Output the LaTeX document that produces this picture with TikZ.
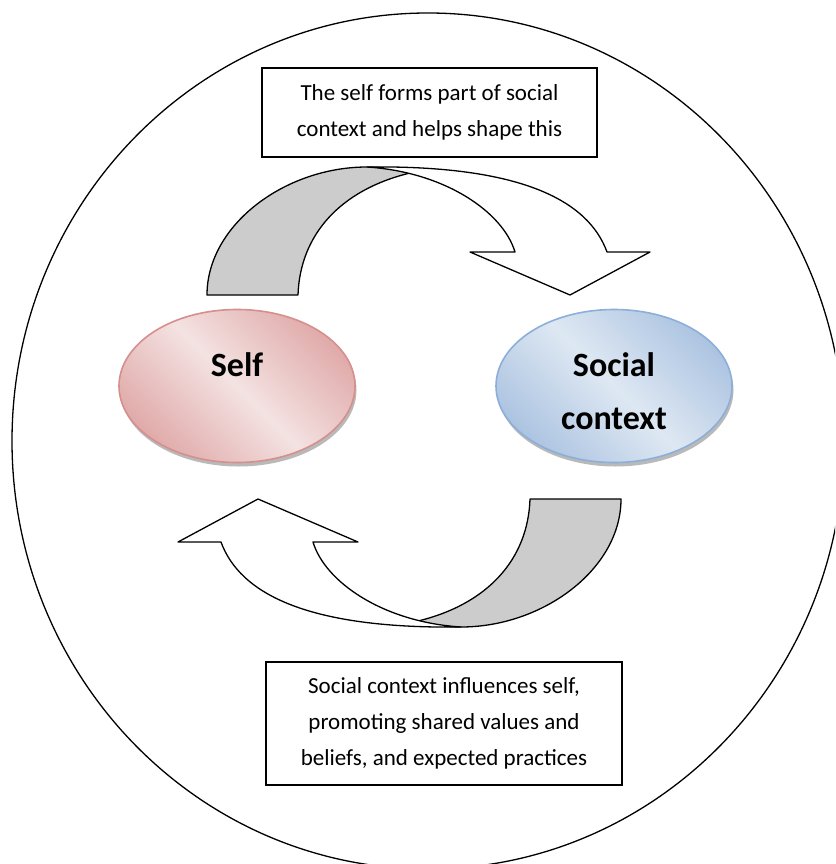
\documentclass[tikz,border=0pt]{standalone}
\usepackage{fontspec}
\setmainfont{Carlito}
\usepackage{tikz}
\usetikzlibrary{shapes.geometric}
\usetikzlibrary{shadows}
\definecolor{selfdark}{HTML}{E0ABAA}
\definecolor{selflight}{HTML}{F4E2E2}
\definecolor{selfborder}{HTML}{D58F8D}
\definecolor{socdark}{HTML}{ADC4E1}
\definecolor{soclight}{HTML}{DEE8F3}
\definecolor{socborder}{HTML}{8CAFD9}
\definecolor{backface}{HTML}{CCCCCC}

\tikzset{
  ellnode/.style={ellipse, minimum width=236pt, minimum height=153pt, inner sep=0pt, line width=1.6pt,
    drop shadow={shadow xshift=1.5pt, shadow yshift=-4pt, fill=black!50, opacity=.55}},
  selfell/.style={ellnode, draw=selfborder, top color=selfdark, bottom color=selfdark, middle color=selflight, shading angle=-45},
  socell/.style={ellnode, draw=socborder, top color=socdark, bottom color=socdark, middle color=soclight, shading angle=-45},
  elltext/.style={align=center, font=\fontsize{34}{53}\selectfont\bfseries},
  txtbox/.style={draw, line width=1.3pt, align=center, inner sep=0pt, fill=white, font=\fontsize{23}{36}\selectfont},
  ribbon/.style={draw, line width=1.3pt, line join=round}
}

\begin{document}
\begin{tikzpicture}[x=1pt,y=-1pt]
\clip (0,0) rectangle (835,864);
% Outer frame
\draw[line width=1.3pt] (428,441) ellipse (416 and 428);
% Bent arrows (the lower one is the upper one turned round)
\foreach \rot in {0,180}{
 \begin{scope}[rotate around={\rot:(414,397)}]
  \draw[ribbon, fill=backface] (207,295) -- (298,295) .. controls (300,235) and (340,190) .. (410,173)
     .. controls (397,169) and (382,167) .. (367,167) .. controls (285,167) and (207,225) .. (207,295) -- cycle;
  \draw[ribbon, fill=white] (367,167) .. controls (520,165) and (588,200) .. (607,252) -- (650,252) -- (570,295)
     -- (470,252) -- (515,252) .. controls (503,212) and (445,172) .. (367,167) -- cycle;
 \end{scope}
}
% Self and social context
\node[selfell] (self) at (237,386) {};
\node[socell] (soc) at (614,386) {};
\node[elltext] (selftxt) at ([yshift=21pt]self.center) {Self};
\node[elltext] (soctxt) at ([yshift=-5pt]soc.center) {Social\\context};
% Captions
\node[txtbox, minimum width=335pt, minimum height=89pt] (topbox) at (429.5,112.5) {The self forms part of social\\context and helps shape this};
\node[txtbox, minimum width=356pt, minimum height=123pt] (botbox) at (444,723.5) {Social context influences self,\\promoting shared values and\\beliefs, and expected practices};
\end{tikzpicture}
\end{document}
